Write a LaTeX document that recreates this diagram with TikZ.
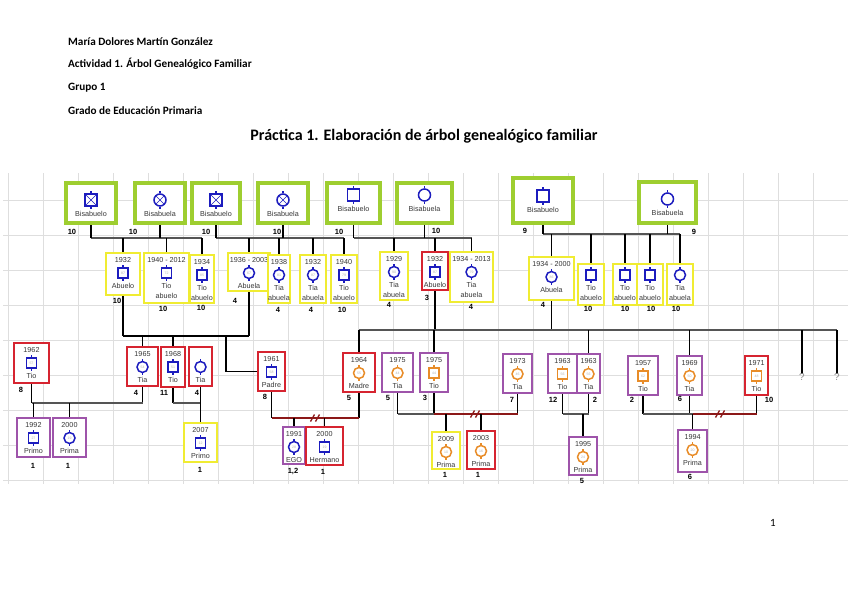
\documentclass[tikz,border=0pt]{standalone}
\usepackage{fontspec}
\setmainfont{Liberation Sans}
\newfontfamily\carl{Carlito}
\usetikzlibrary{calc}
\pgfdeclarelayer{bg}
\pgfsetlayers{bg,main}
\definecolor{grn}{RGB}{158,206,48}
\definecolor{ylw}{RGB}{240,236,50}
\definecolor{rd}{RGB}{214,36,48}
\definecolor{prp}{RGB}{158,84,170}
\definecolor{bl}{RGB}{28,28,190}
\definecolor{orn}{RGB}{232,140,40}
\definecolor{drd}{RGB}{140,24,24}
\definecolor{lgr}{RGB}{85,85,85}
\definecolor{txtc}{RGB}{55,55,55}
\definecolor{gridc}{RGB}{222,222,222}
\tikzset{
  pbxbase/.style={draw, fill=white, inner sep=0pt, outer sep=0pt},
  gbx/.style={pbxbase, draw=grn, line width=3.2pt},
  ybx/.style={pbxbase, draw=ylw, line width=2.4pt},
  rbx/.style={pbxbase, draw=rd, line width=2.2pt},
  pbx/.style={pbxbase, draw=prp, line width=2.4pt},
  txt/.style={font=\fontsize{7.2}{9.6}\selectfont, text=txtc, inner sep=0pt},
  num/.style={font=\fontsize{7.5}{9}\selectfont\bfseries, inner sep=0pt},
  hdr/.style={font=\carl\bfseries\fontsize{11.2}{13}\selectfont, anchor=base west, inner sep=0pt},
  symm/.style={rectangle, minimum size=10pt, line width=1.5pt, fill=white, inner sep=0pt, text=gray!60, font=\fontsize{3.5}{4}\selectfont},
  symf/.style={circle, minimum size=11pt, line width=1.5pt, fill=white, inner sep=0pt, text=gray!60, font=\fontsize{3.5}{4}\selectfont},
  symxm/.style={symm, path picture={\draw[bl, line width=0.6pt] (path picture bounding box.north west)--(path picture bounding box.south east) (path picture bounding box.north east)--(path picture bounding box.south west);}},
  symxf/.style={symf, path picture={\draw[bl, line width=0.6pt] (path picture bounding box.north west)--(path picture bounding box.south east) (path picture bounding box.north east)--(path picture bounding box.south west);}},
  stem/.style={draw=black, line width=1.8pt},
  hline/.style={draw=lgr, line width=1.5pt},
  rline/.style={draw=drd, line width=1.5pt},
  gridl/.style={draw=gridc, line width=0.8pt},
  brk/.pic={\draw[draw=drd, line width=1.3pt] (-4.5,3.5) -- (-0.5,-3.5) (0.5,3.5) -- (4.5,-3.5);}
}
\def\symparse#1/#2/#3\relax{\def\pst{#1}\def\psc{#2}\def\psn{#3}}
\newcommand\person[9]{%
  \pgfmathsetmacro\pcx{(#3+#5)/2}%
  \pgfmathsetmacro\pcy{(#4+#6)/2}%
  \node[#2, minimum width={#5-#3}, minimum height={#6-#4}] (#1) at (\pcx,\pcy) {};%
  \symparse#9\relax
  \if\relax\detokenize{#7}\relax
    \pgfmathsetmacro\psy{#4+11}%
  \else
    \node[txt] (#1y) at (\pcx,#4+7) {#7};%
    \pgfmathsetmacro\psy{#4+20}%
  \fi
  \node[sym\pst, draw=\psc] (#1s) at (\pcx,\psy) {\psn};%
  \draw[draw=\psc, line width=1.2pt] (#1s.north) -- ++(0,-2) (#1s.south) -- ++(0,2);%
  \node[txt, anchor=north, align=center] (#1l) at (\pcx,\psy+10.3) {#8};%
}
\newcommand\gperson[8]{%
  \pgfmathsetmacro\pcx{(#2+#4)/2}%
  \node[gbx, minimum width={#4-#2}, minimum height={#5-#3}] (#1) at (\pcx,{(#3+#5)/2}) {};%
  \node[sym#6, draw=bl, minimum size=12pt] (#1s) at (\pcx,#8) {};%
  \draw[draw=bl, line width=1.2pt] (#1s.north) -- ++(0,-2) (#1s.south) -- ++(0,2);%
  \node[txt] (#1l) at (\pcx,#8+13.5) {#7};%
}
\begin{document}
\begin{tikzpicture}[x=1pt,y=-1pt]
\useasboundingbox (0,0) rectangle (848,599);
\begin{pgfonlayer}{bg}
\fill[white] (0,0) rectangle (848,599);
\foreach \i in {0,...,24} \draw[gridl] ({8+35*\i},173) -- ({8+35*\i},484);
\foreach \j in {0,...,8} \draw[gridl] (3,{200+35*\j}) -- (848,{200+35*\j});
\end{pgfonlayer}
% header
\node[hdr] (h1) at (68,46) {María Dolores Martín González};
\node[hdr] (h2) at (68,68) {Actividad 1. Árbol Genealógico Familiar};
\node[hdr] (h3) at (68,91) {Grupo 1};
\node[hdr] (h4) at (68,114) {Grado de Educación Primaria};
\node[font=\carl\bfseries\fontsize{16}{19}\selectfont, inner sep=0pt] (title) at (424,136) {Práctica 1. Elaboración de árbol genealógico familiar};
\node[font=\carl\fontsize{11}{13}\selectfont, inner sep=0pt] (pg) at (773,523) {1};
% generation 1
\gperson{g1}{66}{183}{116}{223}{xm}{Bisabuelo}{200}
\gperson{g2}{135}{183}{185}{223}{xf}{Bisabuela}{200}
\gperson{g3}{192}{183}{240}{223}{xm}{Bisabuelo}{200}
\gperson{g4}{258}{183}{308}{223}{xf}{Bisabuela}{200}
\gperson{g5}{327}{183}{380}{223}{m}{Bisabuelo}{195}
\gperson{g6}{397}{183}{452}{223}{f}{Bisabuela}{195}
\gperson{g7}{513}{178}{573}{223}{m}{Bisabuelo}{196}
\gperson{g8}{639}{182}{696}{223}{f}{Bisabuela}{199}
% generation 2
\person{a1}{ybx}{106}{253}{140}{295}{1932}{Abuelo}{m/bl/87}
\person{a2}{ybx}{144}{253}{189}{303}{1940 - 2012}{Tio\\abuelo}{m/bl/72}
\person{a3}{ybx}{190}{255}{214}{303}{1934}{Tio\\abuelo}{m/bl/85}
\person{a4}{ybx}{228}{253}{270}{291}{1936 - 2003}{Abuela}{f/bl/67}
\person{a5}{ybx}{268}{255}{290}{303}{1938}{Tia\\abuela}{f/bl/81}
\person{a6}{ybx}{300}{255}{326}{303}{1932}{Tia\\abuela}{f/bl/87}
\person{a7}{ybx}{331}{255}{357}{303}{1940}{Tio\\abuelo}{m/bl/79}
\person{a8}{ybx}{380}{252}{408}{300}{1929}{Tia\\abuela}{f/bl/90}
\person{a9}{rbx}{422}{252}{448}{290}{1932}{Abuelo}{m/bl/87}
\person{a10}{ybx}{450}{252}{493}{302}{1934 - 2013}{Tia\\abuela}{f/bl/79}
\person{a11}{ybx}{529}{257}{574}{300}{1934 - 2000}{Abuela}{f/bl/86}
\person{a12}{ybx}{578}{264}{604}{305}{}{Tio\\abuelo}{m/bl/}
\person{a13}{ybx}{613}{264}{637}{305}{}{Tio\\abuelo}{m/bl/}
\person{a14}{ybx}{637}{264}{663}{305}{}{Tio\\abuelo}{m/bl/}
\person{a15}{ybx}{667}{264}{693}{305}{}{Tia\\abuela}{f/bl/}
% generation 3
\person{b1}{rbx}{14}{343}{49}{383}{1962}{Tio}{m/bl/57}
\person{b2}{rbx}{127}{347}{158}{386}{1965}{Tia}{f/bl/54}
\person{b3}{rbx}{161}{347}{185}{387}{1968}{Tio}{m/bl/51}
\person{b4}{rbx}{189}{347}{212}{386}{~}{Tia}{f/bl/}
\person{b5}{rbx}{258}{352}{285}{391}{1961}{Padre}{m/bl/58}
\person{b6}{rbx}{343}{353}{375}{392}{1964}{Madre}{f/orn/55}
\person{b7}{pbx}{382}{353}{413}{392}{1975}{Tia}{f/orn/44}
\person{b8}{pbx}{420}{353}{448}{392}{1975}{Tio}{m/orn/44}
\person{b9}{pbx}{503}{354}{532}{393}{1973}{Tia}{f/orn/46}
\person{b10}{pbx}{548}{354}{577}{393}{1963}{Tio}{m/orn/56}
\person{b11}{pbx}{577}{354}{600}{393}{1963}{Tia}{f/orn/56}
\person{b12}{pbx}{628}{356}{658}{395}{1957}{Tio}{m/orn/62}
\person{b13}{pbx}{677}{356}{702}{395}{1969}{Tia}{f/orn/50}
\person{b14}{rbx}{745}{356}{768}{395}{1971}{Tio}{m/orn/48}
% generation 4
\person{c1}{pbx}{17}{418}{50}{457}{1992}{Primo}{m/bl/27}
\person{c2}{pbx}{53}{418}{86}{457}{2000}{Prima}{f/bl/19}
\person{c3}{ybx}{184}{423}{217}{462}{2007}{Primo}{m/bl/12}
\person{c4}{pbx}{283}{427}{305}{464}{1991}{EGO}{f/bl/28}
\person{c5}{rbx}{306}{427}{343}{465}{2000}{Hermano}{m/bl/19}
\person{c6}{ybx}{432}{432}{460}{469}{2009}{Prima}{f/orn/10}
\person{c7}{rbx}{467}{431}{495}{469}{2003}{Prima}{f/orn/16}
\person{c8}{pbx}{569}{437}{597}{475}{1995}{Prima}{f/orn/24}
\person{c9}{pbx}{678}{430}{707}{472}{1994}{Prima}{f/orn/20}
% question marks
\node[txt, text=gray!90, font=\fontsize{10}{11}\selectfont] (q1) at (802,377) {?};
\node[txt, text=gray!90, font=\fontsize{10}{11}\selectfont] (q2) at (837,377) {?};
% numbers
\foreach \x/\y/\t [count=\k] in {72/232/10,133/232/10,206/232/10,277/232/10,339/232/10,436/231/10,525/231/9,694/232/9,
  117/301/10,163/309/10,201/308/10,235/301/4,278/310/4,311/310/4,342/310/10,389/305/4,427/298/3,471/307/4,543/305/4,588/309/10,625/309/10,651/309/10,676/309/10,
  21/390/8,136/393/4,164/393/11,197/393/4,265/397/8,349/398/5,388/398/5,425/398/3,512/400/7,553/400/12,595/400/2,632/400/2,680/399/6,769/400/10,
  33/466/1,68/466/1,200/470/1,323/472/1,445/475/1,478/475/1,582/481/5,690/477/6}
  \node[num] (n\k) at (\x,\y) {\t};
\node[num] (nego) at (293,471) {1,2};
\begin{pgfonlayer}{bg}
% generation 1 -> 2
\coordinate (L1) at (0,238);
\coordinate (L4) at (0,234);
\draw[hline] (g1.south |- L1) -- (a3.north |- L1);
\draw[hline] (g3.south |- L1) -- (a7.north |- L1);
\draw[hline] (g5.south |- L1) -- (a10.north |- L1);
\draw[hline] (g7.south |- L4) -- (a15.north |- L4);
\foreach \n in {g1,g2,g3,g4,g5,g6} \draw[stem] (\n.south) -- (\n.south |- L1);
\foreach \n in {g7,g8} \draw[stem] (\n.south) -- (\n.south |- L4);
\foreach \n in {a1,a2,a3,a4,a5,a6,a7,a8,a9,a10} \draw[stem] (\n.north) -- (\n.north |- L1);
\foreach \n in {a11,a12,a13,a14,a15} \draw[stem] (\n.north) -- (\n.north |- L4);
% a1 + a4
\coordinate (M1) at (0,336);
\coordinate (P1) at (226,336);
\draw[stem] (a1.south) -- (a1.south |- M1);
\draw[stem] (a4.south) -- (a4.south |- M1);
\draw[stem] (a1.south |- M1) -- (a4.south |- M1);
\draw[stem] (b2.north) -- (b2.north |- M1);
\draw[stem] (b3.north) -- (b3.north |- M1);
\draw[stem] (P1) -- (P1 |- b5.west) -- (b5.west);
% b1 + b2, b3 + b4
\coordinate (M2) at (0,403);
\foreach \n in {b1,b2,b3} \draw[stem] (\n.south) -- (\n.south |- M2);
\draw[hline] (b1.south |- M2) -- (b2.south |- M2);
\draw[stem] (c1.north) -- (c1.north |- M2);
\draw[stem] (c2.north) -- (c2.north |- M2);
\draw[hline] (b3.south |- M2) -- (b4.south |- M2);
\draw[stem] (b4.south) -- (c3.north);
% b5 + b6
\coordinate (M3) at (0,418);
\draw[stem] (b5.south) -- (b5.south |- M3);
\draw[stem] (b6.south) -- (b6.south |- M3);
\draw[rline] (b5.south |- M3) -- (b6.south |- M3);
\draw[stem] (c4.north) -- (c4.north |- M3);
\draw[stem] (c5.north) -- (c5.north |- M3);
% a9 + a11
\coordinate (M4) at (0,330);
\draw[stem] (a9.south) -- (a9.south |- M4);
\draw[stem] (a11.south) -- (a11.south |- M4);
\draw[hline] (b6.north |- M4) -- (q2.north |- M4);
\foreach \n in {b6,b8,b11,b13} \draw[stem] (\n.north) -- (\n.north |- M4);
\draw[stem] (q1.north |- M4) -- ([yshift=-1pt]q1.north);
\draw[stem] (q2.north |- M4) -- ([yshift=-1pt]q2.north);
% b7 + b8 + b9
\coordinate (M5) at (0,414);
\foreach \n in {b7,b8,b9,b10,b11,b12,b13,b14} \draw[stem] (\n.south) -- (\n.south |- M5);
\draw[hline] (b7.south |- M5) -- (b8.south |- M5);
\draw[rline] (b8.south |- M5) -- (b9.south |- M5);
\draw[stem] (c6.north) -- (c6.north |- M5);
\draw[stem] (c7.north) -- (c7.north |- M5);
% b10 + b11
\draw[hline] (b10.south |- M5) -- (b11.south |- M5);
\draw[stem] (c8.north) -- (c8.north |- M5);
% b12 + b13 + b14
\draw[hline] (b12.south |- M5) -- (c9.north |- M5);
\draw[rline] (c9.north |- M5) -- (b14.south |- M5);
\draw[stem] (c9.north) -- (c9.north |- M5);
\end{pgfonlayer}
\pic at (315,418) {brk};
\pic at (475,414) {brk};
\pic at (720,414) {brk};
\end{tikzpicture}
\end{document}
